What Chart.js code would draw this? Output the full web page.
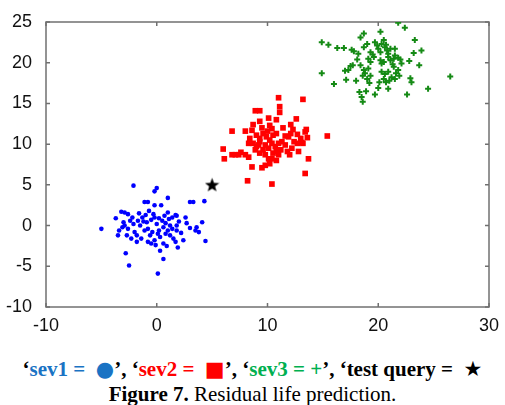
<!DOCTYPE html>
<html>
<head>
<meta charset="utf-8">
<script src="https://cdn.jsdelivr.net/npm/chart.js@4.4.1/dist/chart.umd.min.js"></script>
<style>
  body { margin: 0; background: #fff; width: 505px; height: 405px; overflow: hidden; position: relative; }
  #wrap { position: absolute; left: 0; top: 0; width: 505px; height: 340px; }
  #caption { position: absolute; left: 0; top: 357px; width: 505px; text-align: center;
    font-family: "Liberation Serif", "Times New Roman", serif; font-size: 21px; line-height: 25px; color: #000; white-space: nowrap; }
  .c1 { color: #1a73c4; }
  .c2 { color: #ff0000; }
  .c3 { color: #00b050; }
  .sym { font-family: "DejaVu Sans", sans-serif; font-size: 21px; line-height: 20px; }
</style>
</head>
<body>
<div id="wrap"><canvas id="chart"></canvas></div>
<div id="caption">
  <div><b>‘<span class="c1">sev1 = &nbsp;<span class="sym">●</span></span>’, ‘<span class="c2">sev2 = &nbsp;<span class="sym">■</span></span>’, ‘<span class="c3">sev3 = +</span>’, ‘test query = &nbsp;<span class="sym">★</span></b></div>
  <div><b>Figure 7.</b> Residual life prediction.</div>
</div>
<script>
// axis ticks
const xTicks = [-10, 0, 10, 20, 30];
const yTicks = [-10, -5, 0, 5, 10, 15, 20, 25];

// sev1 (blue dots)
const sev1X = [-2.1, -0.2, 0.0, 1.0, -1.1, -0.8, -0.2, 0.4, 3.0, 3.3, 4.3, -5.0, -3.7, -3.2, -2.9, -2.6, -2.2, -3.0, -2.9, -3.4,
  -3.5, -2.6, -2.7, -2.3, -1.8, -1.7, -1.5, -1.3, -1.0, -0.9, -0.8, -0.6, -0.2, 0.0, 0.2, -0.8, -0.5, -0.2, 0.5, 0.6,
  0.8, 1.1, 1.2, 1.4, 1.7, 1.8, 1.0, 1.2, 1.5, 0.6, 0.9, 1.8, 1.8, 1.7, 1.9, 2.6, 2.4, 3.0, 3.5, 3.6,
  3.8, 4.4, -2.8, 0.6, -2.5, 0.1, 0.3, 4.1, -2.4, -2.0, -2.1, -1.8, -1.2, -1.1, -0.5, -0.4, -0.3, 0.2, 0.3, 0.8,
  0.7, 1.4, 2.0, 2.2, -1.6, -0.7, 0.1, 2.7, -3.1, 1.0, -1.4, -0.1];
const sev1Y = [4.9, 4.2, 4.6, 3.4, 2.9, 2.9, 2.5, 2.5, 2.9, 2.9, 3.0, -0.4, 0.9, 1.7, 1.6, 1.4, 1.0, 0.4, 0.0, -0.6,
  -1.2, -0.4, -1.2, -1.6, -2.0, 0.6, 0.0, 1.0, 1.3, 0.4, -0.4, -1.2, 1.0, 0.2, -0.6, -2.0, -2.2, -1.8, 0.6, -0.2,
  -1.0, 0.8, 0.0, 1.0, 1.3, 1.2, -0.6, -1.2, -1.6, -2.2, -2.5, 0.0, -0.6, -2.0, -2.7, 1.0, -1.8, -0.3, -0.6, -0.2,
  -0.8, -1.9, -3.4, -4.1, -4.9, -5.9, -3.1, 0.4, 0.6, -0.8, 0.2, -1.2, 0.5, -0.6, 0.7, -0.8, 1.4, 0.9, -1.4, 0.3,
  1.2, -0.4, 0.5, -0.9, 1.5, 1.8, -1.0, 0.3, -0.2, 1.6, -1.6, -2.4];

// sev2 (red squares)
const sev2X = [11.0, 13.2, 11.1, 11.1, 8.9, 9.3, 10.1, 10.8, 12.6, 9.3, 8.7, 12.1, 10.2, 10.4, 13.5, 13.4, 6.8, 8.0, 8.6, 12.1,
  11.9, 12.7, 15.4, 9.0, 9.3, 9.6, 9.9, 10.2, 10.5, 10.8, 8.4, 8.3, 13.6, 13.0, 8.7, 9.0, 9.3, 9.8, 10.1, 10.4,
  10.7, 11.0, 11.3, 11.6, 12.4, 12.7, 13.1, 6.0, 6.8, 7.1, 7.4, 8.0, 8.3, 6.1, 8.9, 9.3, 9.6, 9.8, 10.1, 10.5,
  10.8, 11.2, 10.4, 10.8, 11.8, 12.0, 12.2, 12.8, 13.2, 13.7, 9.8, 9.5, 10.2, 8.6, 13.4, 8.2, 10.4, 9.5, 11.4, 11.6,
  10.0, 11.0, 9.2, 12.3, 7.6];
const sev2Y = [15.7, 15.5, 14.6, 13.9, 14.1, 14.1, 13.2, 13.0, 13.1, 12.8, 12.4, 12.4, 12.3, 11.9, 11.8, 11.5, 11.6, 11.6, 11.7, 11.3,
  10.9, 11.2, 11.0, 11.1, 10.7, 11.3, 10.9, 10.5, 11.1, 11.3, 10.7, 10.1, 10.8, 10.7, 10.1, 9.7, 10.3, 9.9, 9.5, 10.1,
  9.7, 10.1, 10.3, 9.9, 10.3, 10.1, 10.2, 9.4, 8.7, 8.7, 8.7, 8.7, 8.4, 8.2, 9.3, 8.9, 9.3, 8.7, 8.2, 8.9,
  9.1, 9.3, 8.2, 8.0, 9.1, 8.7, 9.5, 9.1, 10.1, 8.2, 7.4, 7.1, 7.6, 7.2, 6.4, 5.5, 5.1, 12.0, 12.0, 11.0,
  11.6, 8.7, 9.9, 11.8, 9.0];

// sev3 (green crosses)
const sev3X = [21.8, 22.4, 20.2, 18.7, 14.9, 15.5, 16.3, 16.9, 18.4, 17.6, 17.8, 18.2, 18.7, 19.0, 19.3, 19.7, 19.9, 20.0, 20.2, 20.3,
  20.5, 20.6, 20.8, 20.9, 21.1, 21.5, 23.3, 23.9, 23.2, 19.1, 19.3, 19.6, 20.2, 20.3, 20.5, 20.9, 21.1, 21.4, 21.5, 21.8,
  22.0, 22.1, 22.8, 23.7, 17.5, 17.7, 17.3, 17.0, 18.4, 18.7, 18.8, 18.6, 19.1, 19.3, 19.0, 20.3, 20.6, 20.9, 20.5, 20.7,
  21.0, 21.4, 21.6, 21.8, 21.2, 21.5, 21.9, 14.9, 16.0, 17.1, 18.0, 19.2, 20.1, 22.9, 23.0, 24.5, 26.5, 18.3, 18.9, 18.5,
  18.6, 20.0, 20.9, 19.7, 22.6, 19.5, 20.7, 18.1, 21.3];
const sev3Y = [24.9, 24.3, 23.8, 23.6, 22.5, 22.2, 21.8, 21.8, 23.1, 21.6, 21.4, 21.1, 21.9, 22.3, 21.3, 22.5, 22.1, 21.7, 21.3, 22.3,
  22.8, 21.9, 21.5, 21.1, 21.7, 21.7, 22.8, 21.5, 21.2, 20.5, 20.1, 20.7, 20.3, 19.9, 20.1, 20.7, 20.3, 20.5, 20.9, 20.6,
  20.4, 19.9, 20.2, 19.7, 19.6, 19.7, 19.1, 19.0, 19.7, 19.1, 18.7, 18.4, 19.3, 18.4, 18.0, 18.9, 18.6, 18.9, 18.0, 17.6,
  17.8, 19.5, 18.7, 19.1, 18.2, 18.0, 18.4, 18.7, 17.4, 17.9, 17.8, 17.5, 17.6, 18.1, 17.6, 16.8, 18.3, 16.4, 16.5, 15.8,
  15.2, 16.9, 16.8, 16.1, 16.1, 21.0, 22.2, 20.4, 19.8];

// test query (black star)
const queryX = [5.0];
const queryY = [5.0];

const toPoints = (xs, ys) => xs.map((x, i) => ({ x: x, y: ys[i] }));

// filled star marker
function makeStar(size) {
  const c = document.createElement('canvas');
  c.width = size; c.height = size;
  const g = c.getContext('2d');
  const cx = size / 2, cy = size / 2 + 0.5, ro = size / 2, ri = ro * 0.42;
  g.beginPath();
  for (let i = 0; i < 10; i++) {
    const r = i % 2 === 0 ? ro : ri;
    const a = -Math.PI / 2 + i * Math.PI / 5;
    g.lineTo(cx + r * Math.cos(a), cy + r * Math.sin(a));
  }
  g.closePath();
  g.fillStyle = '#000';
  g.fill();
  return c;
}

// box + inward ticks (matlab style)
const boxPlugin = {
  id: 'box',
  beforeDatasetsDraw(chart) {
    const { ctx, chartArea: a, scales } = chart;
    ctx.save();
    ctx.strokeStyle = '#707070';
    ctx.lineWidth = 1.5;
    ctx.beginPath();
    scales.x.ticks.forEach(t => {
      const px = scales.x.getPixelForValue(t.value);
      ctx.moveTo(px, a.bottom); ctx.lineTo(px, a.bottom - 4);
      ctx.moveTo(px, a.top); ctx.lineTo(px, a.top + 4);
    });
    scales.y.ticks.forEach(t => {
      const py = scales.y.getPixelForValue(t.value);
      ctx.moveTo(a.left, py); ctx.lineTo(a.left + 4, py);
      ctx.moveTo(a.right, py); ctx.lineTo(a.right - 4, py);
    });
    ctx.stroke();
    ctx.strokeRect(a.left, a.top, a.right - a.left, a.bottom - a.top);
    ctx.restore();
  }
};

const tickFont = { family: '"Liberation Sans", Arial, sans-serif', size: 18 };

new Chart(document.getElementById('chart'), {
  type: 'scatter',
  data: {
    datasets: [
      { label: 'sev1', data: toPoints(sev1X, sev1Y), pointStyle: 'circle', pointRadius: 2.3,
        backgroundColor: '#0000ff', borderColor: '#0000ff', borderWidth: 0 },
      { label: 'sev2', data: toPoints(sev2X, sev2Y), pointStyle: 'rect', pointRadius: 4,
        backgroundColor: '#ff0000', borderColor: '#ff0000', borderWidth: 0 },
      { label: 'sev3', data: toPoints(sev3X, sev3Y), pointStyle: 'cross', pointRadius: 3,
        backgroundColor: '#158a15', borderColor: '#158a15', borderWidth: 2 },
      { label: 'test query', data: toPoints(queryX, queryY), pointStyle: makeStar(15), pointRadius: 7 }
    ]
  },
  options: {
    responsive: true,
    maintainAspectRatio: false,
    animation: false,
    layout: { padding: { left: 0, top: 22, right: 16, bottom: 0 } },
    plugins: { legend: { display: false }, tooltip: { enabled: false } },
    scales: {
      x: {
        type: 'linear', min: -10, max: 30,
        afterBuildTicks: s => { s.ticks = xTicks.map(v => ({ value: v })); },
        afterFit: s => { s.height = 33; },
        grid: { display: false },
        border: { display: false },
        ticks: { font: tickFont, color: '#111', padding: 0, maxRotation: 0 }
      },
      y: {
        type: 'linear', min: -10, max: 25,
        afterBuildTicks: s => { s.ticks = yTicks.map(v => ({ value: v })); },
        afterFit: s => { s.width = 46; },
        grid: { display: false },
        border: { display: false },
        ticks: { font: tickFont, color: '#111', padding: 6 }
      }
    }
  },
  plugins: [boxPlugin]
});
</script>
</body>
</html>
